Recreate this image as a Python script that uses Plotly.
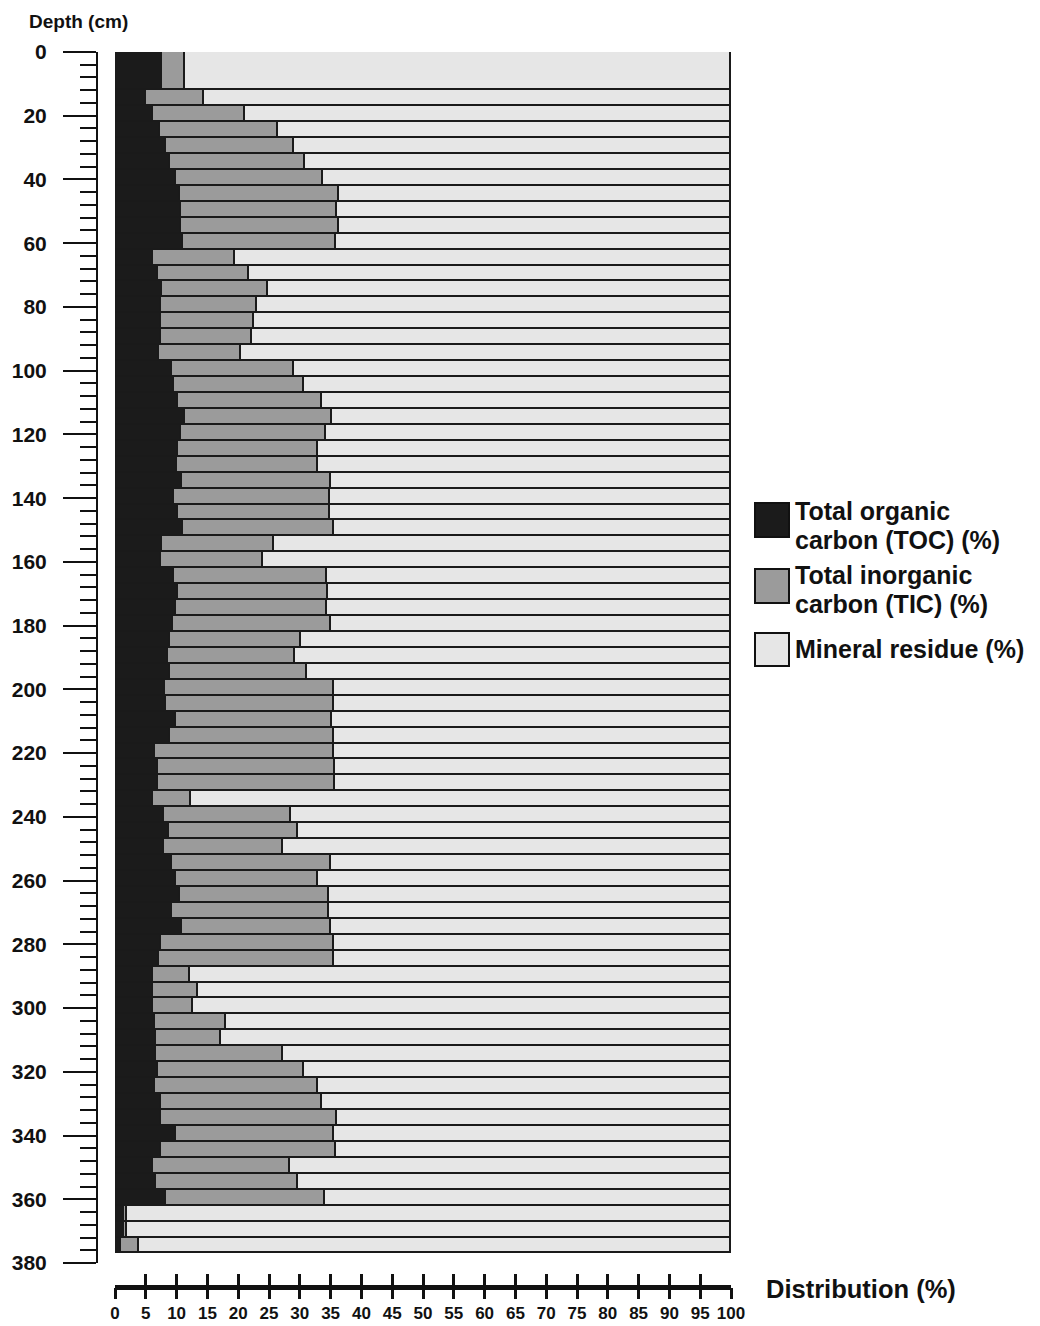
import plotly.graph_objects as go

# ---------------- data ----------------
depth_top = [0, 12, 17, 22, 27, 32, 37, 42, 47, 52, 57, 62, 67, 72, 77, 82, 87, 92, 97, 102,
             107, 112, 117, 122, 127, 132, 137, 142, 147, 152, 157, 162, 167, 172, 177, 182, 187, 192, 197, 202,
             207, 212, 217, 222, 227, 232, 237, 242, 247, 252, 257, 262, 267, 272, 277, 282, 287, 292, 297, 302,
             307, 312, 317, 322, 327, 332, 337, 342, 347, 352, 357, 362, 367, 372]
depth_bottom = [12, 17, 22, 27, 32, 37, 42, 47, 52, 57, 62, 67, 72, 77, 82, 87, 92, 97, 102, 107,
                112, 117, 122, 127, 132, 137, 142, 147, 152, 157, 162, 167, 172, 177, 182, 187, 192, 197, 202, 207,
                212, 217, 222, 227, 232, 237, 242, 247, 252, 257, 262, 267, 272, 277, 282, 287, 292, 297, 302, 307,
                312, 317, 322, 327, 332, 337, 342, 347, 352, 357, 362, 367, 372, 377]

toc = [7.6, 5.0, 6.1, 7.3, 8.3, 9.0, 9.9, 10.5, 10.7, 10.7,
       11.0, 6.2, 6.9, 7.7, 7.4, 7.5, 7.4, 7.1, 9.3, 9.6,
       10.3, 11.3, 10.7, 10.2, 10.0, 10.9, 9.5, 10.3, 11.1, 7.6,
       7.4, 9.6, 10.3, 9.9, 9.4, 8.9, 8.6, 9.0, 8.1, 8.2,
       9.9, 9.0, 6.5, 6.9, 7.0, 6.2, 8.0, 8.8, 8.0, 9.2,
       9.9, 10.6, 9.3, 10.9, 7.5, 7.1, 6.1, 6.2, 6.1, 6.5,
       6.7, 6.7, 6.9, 6.5, 7.5, 7.5, 9.9, 7.5, 6.2, 6.6,
       8.3, 1.5, 1.5, 0.9]

tic = [3.8, 9.5, 15.0, 19.2, 20.8, 21.9, 23.8, 25.8, 25.3, 25.6,
       24.9, 13.3, 14.9, 17.1, 15.6, 15.0, 14.9, 13.3, 19.8, 21.1,
       23.3, 24.0, 23.6, 22.8, 23.0, 24.2, 25.4, 24.6, 24.4, 18.2,
       16.7, 24.8, 24.2, 24.5, 25.6, 21.3, 20.7, 22.1, 27.5, 27.4,
       25.3, 26.5, 29.1, 28.8, 28.7, 6.1, 20.6, 20.9, 19.2, 25.9,
       23.1, 24.2, 25.5, 24.1, 28.1, 28.5, 6.1, 7.2, 6.6, 11.5,
       10.5, 20.5, 23.8, 26.4, 26.1, 28.5, 25.7, 28.4, 22.2, 23.1,
       25.8, 0.5, 0.5, 3.0]

mineral = [88.6, 85.5, 78.9, 73.5, 70.9, 69.1, 66.3, 63.7, 64.0, 63.7,
           64.1, 80.5, 78.2, 75.2, 77.0, 77.5, 77.7, 79.6, 70.9, 69.3,
           66.4, 64.7, 65.7, 67.0, 67.0, 64.9, 65.1, 65.1, 64.5, 74.2,
           75.9, 65.6, 65.5, 65.6, 65.0, 69.8, 70.7, 68.9, 64.4, 64.4,
           64.8, 64.5, 64.4, 64.3, 64.3, 87.7, 71.4, 70.3, 72.8, 64.9,
           67.0, 65.2, 65.2, 65.0, 64.4, 64.4, 87.8, 86.6, 87.3, 82.0,
           82.8, 72.8, 69.3, 67.1, 66.4, 64.0, 64.4, 64.1, 71.6, 70.3,
           65.9, 98.0, 98.0, 96.1]

series_names = ["Total organic<br>carbon (TOC) (%)", "Total inorganic<br>carbon (TIC) (%)", "Mineral residue (%)"]
x_ticks = list(range(0, 101, 5))
depth_ticks = list(range(0, 381, 20))

# ---------------- layout geometry ----------------
W, H = 1040, 1326
ML, MR, MT, MB = 97, 309, 52, 39
PW, PH = W - ML - MR, H - MT - MB

def px(xp):
    return (xp - ML) / PW

def py(yp):
    return 1 - (yp - MT) / PH

colors = ["#1b1b1b", "#9b9b9b", "#e6e6e6"]
centers = [(a + b) / 2 for a, b in zip(depth_top, depth_bottom)]
widths = [b - a for a, b in zip(depth_top, depth_bottom)]

fig = go.Figure()
for vals, name, col in zip([toc, tic, mineral], series_names, colors):
    fig.add_trace(go.Bar(
        y=centers, x=vals, width=widths, orientation="h", name=name,
        marker=dict(color=col, line=dict(color="#1a1a1a", width=1.7)),
        showlegend=False,
    ))

# helper trace for a second x axis (ticks below the axis line)
fig.add_trace(go.Scatter(x=[0, 100], y=[None, None], xaxis="x2", yaxis="y",
                         mode="markers", showlegend=False, hoverinfo="skip"))

tickfont_num = dict(family="Liberation Sans, Arial", size=17, color="#111", weight="bold")

fig.update_layout(
    width=W, height=H,
    margin=dict(l=ML, r=MR, t=MT, b=MB, autoexpand=False),
    paper_bgcolor="white", plot_bgcolor="white",
    barmode="stack", bargap=0,
    font=dict(family="Liberation Sans, Arial", color="#111"),
    xaxis=dict(
        domain=[(115 - ML) / PW, 1], range=[0, 100], anchor="free", position=0,
        showgrid=False, zeroline=False, automargin=False,
        showline=True, linecolor="#111", linewidth=5,
        ticks="inside", ticklen=11, tickwidth=3, tickcolor="#111",
        tickvals=x_ticks, ticktext=[str(v) for v in x_ticks],
        tickfont=tickfont_num, ticklabelstandoff=9,
    ),
    xaxis2=dict(
        domain=[(115 - ML) / PW, 1], range=[0, 100], matches="x", overlaying="x",
        anchor="free", position=0, side="bottom", automargin=False,
        showgrid=False, zeroline=False, showline=False,
        ticks="outside", ticklen=11, tickwidth=3, tickcolor="#111",
        tickvals=x_ticks, showticklabels=False,
    ),
    yaxis=dict(
        domain=[(1287 - 1263) / PH, 1], range=[380, 0], anchor="free", position=0,
        showgrid=False, zeroline=False, automargin=False,
        showline=True, linecolor="#111", linewidth=2,
        ticks="outside", ticklen=33, tickwidth=2, tickcolor="#111",
        tickvals=depth_ticks, ticktext=[str(v) for v in depth_ticks],
        tickfont=dict(family="Liberation Sans, Arial", size=21, color="#111", weight="bold"),
        ticklabelstandoff=12,
        minor=dict(tickvals=list(range(0, 381, 4)), ticks="outside", ticklen=16, tickwidth=2, tickcolor="#111"),
    ),
)

annots = []
shapes = []
# axis titles
annots.append(dict(text="Depth (cm)", x=px(27), y=py(22), xref="paper", yref="paper",
                   xanchor="left", yanchor="middle", showarrow=False,
                   font=dict(size=19, weight="bold", color="#111")))
annots.append(dict(text="Distribution (%)", x=px(764), y=py(1289), xref="paper", yref="paper",
                   xanchor="left", yanchor="middle", showarrow=False,
                   font=dict(size=25.5, weight="bold", color="#111")))

# legend (manual)
box_y = [(503, 537), (569, 603), (633, 666)]
legend_lines = [[("Total organic", 511), ("carbon (TOC) (%)", 540)],
                [("Total inorganic", 575), ("carbon (TIC) (%)", 604)],
                [("Mineral residue (%)", 649)]]
for (y0, y1), col, lines in zip(box_y, colors, legend_lines):
    shapes.append(dict(type="rect", xref="paper", yref="paper",
                       x0=px(755), x1=px(789), y0=py(y1), y1=py(y0),
                       fillcolor=col, line=dict(color="#111", width=2)))
    for txt, yc in lines:
        annots.append(dict(text=txt, x=px(793), y=py(yc), xref="paper", yref="paper",
                           xanchor="left", yanchor="middle", showarrow=False,
                           font=dict(size=25, weight="bold", color="#111")))

fig.update_layout(annotations=annots, shapes=shapes)
fig.write_html("out.html", config={"displayModeBar": False},
               post_script="document.body.style.margin='0';document.body.style.overflow='hidden';")
